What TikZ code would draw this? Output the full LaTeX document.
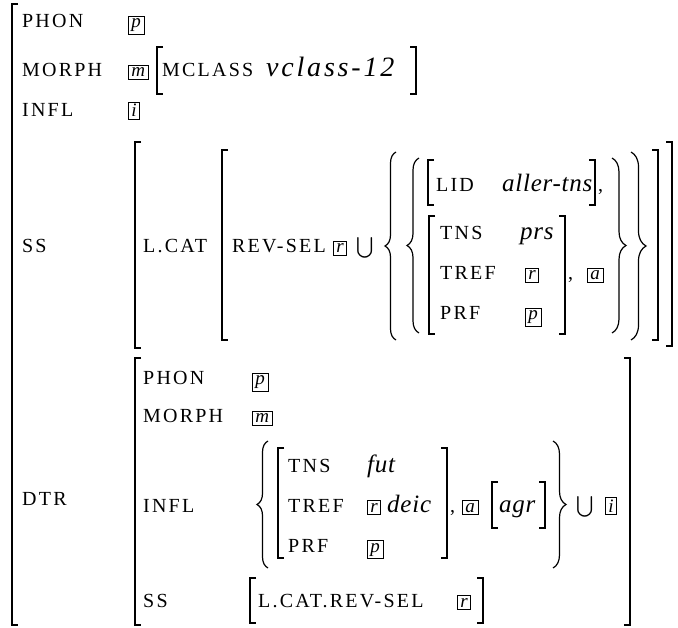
\documentclass[tikz,border=0pt]{standalone}
\usepackage{fontspec}
\usepackage{exscale}
\setmainfont{Liberation Serif}
\newfontfamily\labfont[LetterSpace=11]{Liberation Serif}
\newfontfamily\valfont[LetterSpace=3]{Liberation Serif}
\newfontfamily\wvalfont[LetterSpace=10]{Liberation Serif}
\usetikzlibrary{decorations.pathreplacing}
\tikzset{
  lab/.style={anchor=base west, inner sep=0pt, font=\labfont\fontsize{20}{24}\selectfont},
  val/.style={anchor=base west, inner sep=0pt, font=\valfont\fontsize{25}{30}\selectfont\itshape},
  wval/.style={val, font=\wvalfont\fontsize{28}{32}\selectfont\itshape},
  tagbox/.style={draw, line width=0.6pt, inner xsep=3pt, inner ysep=2.5pt, anchor=base west, font=\fontsize{19}{22}\selectfont\itshape},
  cupsym/.style={anchor=base west, inner sep=0pt, font=\fontsize{22}{26}\selectfont},
  brk/.style={line width=1.3pt},
  brc/.style={line width=1.2pt, decorate, decoration={brace, amplitude=#1}},
  brc/.default=12pt
}
\newcommand\avmLB[3]{\draw[brk] (#1+6,#2) -- (#1,#2) -- (#1,#3) -- (#1+6,#3);}
\newcommand\avmRB[3]{\draw[brk] (#1-6,#2) -- (#1,#2) -- (#1,#3) -- (#1-6,#3);}
\begin{document}
\begin{tikzpicture}[x=1pt,y=-1pt]
\useasboundingbox (0,0) rectangle (678,628);
% outer bracket
\avmLB{12}{4}{625}
% top rows
\node[lab] (phon1) at (22,28) {PHON};
\node[tagbox] (p1) at (128,28) {p};
\node[lab] (morph1) at (22,77) {MORPH};
\node[tagbox] (m1) at (128,77) {m};
\avmLB{157}{47}{94}
\node[lab] (mclass) at (162,77) {MCLASS};
\node[wval] (vclass) at (266,77) {vclass-12};
\avmRB{416}{47}{94}
\node[lab] (infl1) at (22,117) {INFL};
\node[tagbox] (i1) at (128,117) {i};
% SS
\node[lab] (ss1) at (22,253) {SS};
\avmLB{135}{142}{348}
\node[lab] (lcat) at (143,253) {L.CAT};
\avmLB{222}{150}{340}
\node[lab] (revsel) at (232,253) {REV-SEL};
\node[tagbox] (r1) at (333,253) {r};
\node[cupsym] (cup1) at (356,253) {$\bigcup$};
\draw[brc=11pt] (396,340) -- (396,152);
\draw[brc=12pt] (419,333) -- (419,158);
\avmLB{428}{160}{205}
\node[lab] (lid) at (436,192) {LID};
\node[val] (aller) at (502,192) {aller-tns};
\avmRB{595}{160}{205}
\node[lab] (c1) at (598,192) {,};
\avmLB{429}{216}{334}
\node[lab] (tns1) at (440,240) {TNS};
\node[val] (prs) at (520,240) {prs};
\node[lab] (tref1) at (440,280) {TREF};
\node[tagbox] (r2) at (525,280) {r};
\node[lab] (prf1) at (440,320) {PRF};
\node[tagbox] (p2) at (525,320) {p};
\avmRB{565}{216}{334}
\node[lab] (c2) at (568,280) {,};
\node[tagbox] (a1) at (587,280) {a};
\draw[brc=14pt] (612,158) -- (612,333);
\draw[brc=15pt] (631,152) -- (631,340);
\avmRB{658}{150}{340}
\avmRB{672}{142}{346}
% DTR
\node[lab] (dtr) at (22,505) {DTR};
\avmLB{135}{358}{625}
\avmRB{630}{358}{625}
\node[lab] (phon2) at (143,385) {PHON};
\node[tagbox] (p3) at (252,385) {p};
\node[lab] (morph2) at (143,423) {MORPH};
\node[tagbox] (m2) at (252,423) {m};
\node[lab] (infl2) at (143,512) {INFL};
\draw[brc=11pt] (268,568) -- (268,441);
\avmLB{278}{448}{558}
\node[lab] (tns2) at (288,472) {TNS};
\node[val] (fut) at (367,472) {fut};
\node[lab] (tref2) at (288,512) {TREF};
\node[tagbox] (r3) at (367,512) {r};
\node[val] (deic) at (387,512) {deic};
\node[lab] (prf2) at (288,552) {PRF};
\node[tagbox] (p4) at (367,552) {p};
\avmRB{447}{448}{558}
\node[lab] (c3) at (450,512) {,};
\node[tagbox] (a2) at (462,512) {a};
\avmLB{492}{482}{528}
\node[val] (agr) at (499,512) {agr};
\avmRB{545}{482}{528}
\draw[brc=13pt] (553,441) -- (553,568);
\node[cupsym] (cup2) at (576,512) {$\bigcup$};
\node[tagbox] (i2) at (605,512) {i};
\node[lab] (ss2) at (143,607) {SS};
\avmLB{250}{578}{623}
\node[lab] (lcrs) at (258,607) {L.CAT.REV-SEL};
\node[tagbox] (r4) at (457,607) {r};
\avmRB{483}{578}{623}
\end{tikzpicture}
\end{document}
